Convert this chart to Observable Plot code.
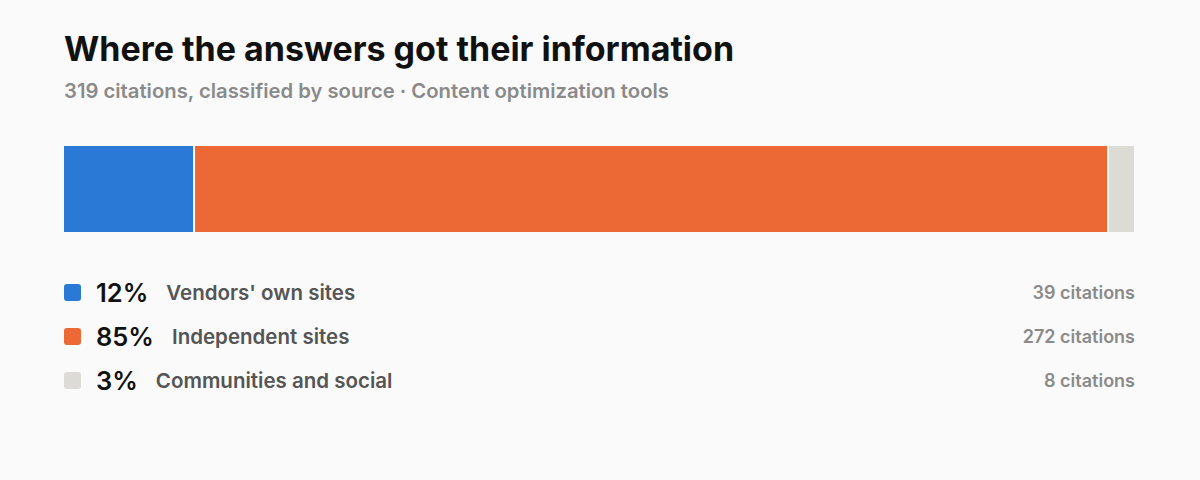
<!DOCTYPE html>
<html>
<head>
<meta charset="utf-8">
<script src="https://cdn.jsdelivr.net/npm/d3@7"></script>
<script src="https://cdn.jsdelivr.net/npm/@observablehq/plot@0.6"></script>
<style>
  html, body { margin: 0; padding: 0; background: #fafafa; }
  body { width: 1200px; height: 480px; font-family: Inter, "Noto Sans", sans-serif; position: relative; overflow: hidden; }
  #title { position: absolute; left: 64px; top: 29px; font-size: 34px; font-weight: 700; color: #111; letter-spacing: 0; line-height: 1.2; white-space: nowrap; }
  #subtitle { position: absolute; left: 64px; top: 79px; font-size: 20.25px; font-weight: 600; color: #8a8a8a; line-height: 1.2; white-space: nowrap; }
  #chart { position: absolute; left: 0; top: 130px; }
  #legend { position: absolute; left: 64px; top: 270px; width: 1071px; }
  .row { display: flex; align-items: center; height: 44px; }
  .sw { width: 17px; height: 17px; border-radius: 3px; margin-right: 15px; flex: none; }
  .pct { font-size: 25.5px; font-weight: 600; color: #111; margin-right: 18px; }
  .lab { font-size: 20.5px; font-weight: 600; color: #555; }
  .cit { margin-left: auto; font-size: 18px; font-weight: 600; color: #8a8a8a; }
</style>
</head>
<body>
<div id="title">Where the answers got their information</div>
<div id="subtitle">319 citations, classified by source · Content optimization tools</div>
<div id="chart"></div>
<div id="legend"></div>
<script>
const categories = ["Vendors' own sites", "Independent sites", "Communities and social"];
const citations = [39, 272, 8];
const percents = ["12%", "85%", "3%"];
const colors = ["#2a79d6", "#ec6935", "#dcdbd6"];

const total = d3.sum(citations);
const data = categories.map((c, i) => ({category: c, count: citations[i], order: i}));

const chart = Plot.plot({
  width: 1200,
  height: 118,
  marginLeft: 63,
  marginRight: 65,
  marginTop: 16,
  marginBottom: 16,
  style: {background: "transparent"},
  x: {domain: [0, total], axis: null},
  y: {axis: null},
  color: {domain: categories, range: colors},
  marks: [
    Plot.barX(data, Plot.stackX({
      x: "count",
      fill: "category",
      order: "order",
      insetLeft: 1,
      insetRight: 1,
      insetTop: 0,
      insetBottom: 0
    }))
  ]
});
document.getElementById("chart").appendChild(chart);

const legend = d3.select("#legend");
categories.forEach((c, i) => {
  const row = legend.append("div").attr("class", "row");
  row.append("div").attr("class", "sw").style("background", colors[i]);
  row.append("span").attr("class", "pct").text(percents[i]);
  row.append("span").attr("class", "lab").text(c);
  row.append("span").attr("class", "cit").text(`${citations[i]} citations`);
});
</script>
</body>
</html>
